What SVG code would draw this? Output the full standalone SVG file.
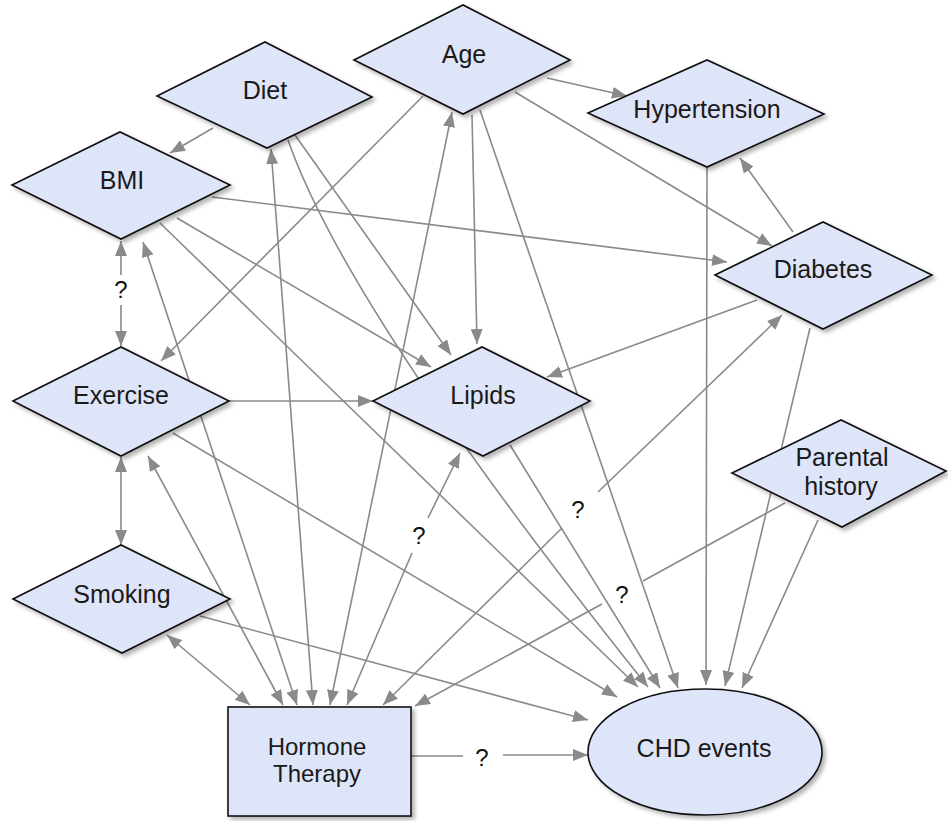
<svg xmlns="http://www.w3.org/2000/svg" width="948" height="821" viewBox="0 0 948 821">
<style>
.n{fill:#dfe5f8;stroke:#111;stroke-width:1.6;filter:url(#sh)}
.t{font-family:"Liberation Sans",Arial,sans-serif;font-size:25px;fill:#1a1a1a;text-anchor:middle}
.q{font-family:"Liberation Sans",Arial,sans-serif;font-size:24px;fill:#111;text-anchor:middle}
.e{stroke:#8a8a8a;stroke-width:1.6;fill:none}
.a{marker-end:url(#ah)}
.b{marker-start:url(#ah);marker-end:url(#ah)}
</style>
<defs>
<marker id="ah" markerUnits="userSpaceOnUse" markerWidth="16" markerHeight="12" refX="15" refY="6" orient="auto-start-reverse">
<path d="M0,0 L15,6 L0,12 z" fill="#8a8a8a"/>
</marker>
<filter id="sh" x="-10%" y="-10%" width="125%" height="130%">
<feDropShadow dx="3" dy="3" stdDeviation="2" flood-color="#000" flood-opacity="0.3"/>
</filter>
</defs>
<rect width="948" height="821" fill="#fff"/>

<g id="connectors">
<line class="e a" x1="547" y1="78" x2="627" y2="96"/>
<line class="e a" x1="515" y1="92" x2="772" y2="246"/>
<line class="e a" x1="472" y1="115" x2="477" y2="344"/>
<line class="e a" x1="480" y1="110" x2="678" y2="688"/>
<line class="e a" x1="423" y1="96" x2="161" y2="361"/>
<line class="e b" x1="452" y1="112" x2="330" y2="705"/>
<line class="e a" x1="213" y1="128" x2="170" y2="153"/>
<line class="e b" x1="271" y1="149" x2="313" y2="705"/>
<line class="e a" x1="295" y1="135" x2="451" y2="355"/>
<path class="e a" d="M288,140 Q348,312 648,687"/>
<line class="e a" x1="212" y1="197" x2="727" y2="262"/>
<line class="e a" x1="177" y1="218" x2="431" y2="367"/>
<line class="e a" x1="160" y1="223" x2="638" y2="687"/>
<line class="e a" x1="121" y1="275" x2="121" y2="241"/>
<line class="e a" x1="121" y1="305" x2="121" y2="346"/>
<line class="e b" x1="143" y1="242" x2="297" y2="705"/>
<line class="e a" x1="229" y1="401" x2="373" y2="401"/>
<line class="e a" x1="173" y1="433" x2="617" y2="697"/>
<line class="e b" x1="148" y1="456" x2="283" y2="705"/>
<line class="e b" x1="121" y1="457" x2="121" y2="545"/>
<line class="e b" x1="167" y1="635" x2="250" y2="705"/>
<line class="e a" x1="200" y1="616" x2="588" y2="720"/>
<line class="e a" x1="428" y1="518" x2="460" y2="453"/>
<line class="e a" x1="412" y1="553" x2="347" y2="705"/>
<line class="e a" x1="510" y1="445" x2="660" y2="688"/>
<line class="e a" x1="793" y1="232" x2="740" y2="158"/>
<line class="e a" x1="757" y1="300" x2="547" y2="377"/>
<line class="e a" x1="598" y1="492" x2="782" y2="315"/>
<line class="e a" x1="562" y1="528" x2="383" y2="705"/>
<line class="e a" x1="810" y1="328" x2="725" y2="686"/>
<line class="e a" x1="707" y1="167" x2="706" y2="685"/>
<line class="e a" x1="818" y1="520" x2="742" y2="688"/>
<line class="e" x1="785" y1="503" x2="643" y2="581"/>
<line class="e a" x1="602" y1="604" x2="415" y2="706"/>
<line class="e" x1="411" y1="756" x2="463" y2="756"/>
<line class="e a" x1="503" y1="755" x2="588" y2="755"/>
<text class="q" x="121" y="298">?</text>
<text class="q" x="419" y="544">?</text>
<text class="q" x="578" y="518">?</text>
<text class="q" x="622" y="603">?</text>
<text class="q" x="482" y="766">?</text>
</g>

<g id="age"><polygon class="n" points="354,60 463,5 570,60 463,114"/><text class="t" x="464" y="63">Age</text></g>
<g id="diet"><polygon class="n" points="157,96 265,42 372,97 267,148"/><text class="t" x="265" y="99">Diet</text></g>
<g id="bmi"><polygon class="n" points="12,185 120,132 230,185 121,239"/><text class="t" x="122" y="189">BMI</text></g>
<g id="hypertension"><polygon class="n" points="588,113 707,60 824,114 707,167"/><text class="t" x="707" y="118">Hypertension</text></g>
<g id="diabetes"><polygon class="n" points="715,275 823,222 932,275 823,329"/><text class="t" x="823" y="278">Diabetes</text></g>
<g id="exercise"><polygon class="n" points="13,401 121,347 229,401 121,456"/><text class="t" x="121" y="404">Exercise</text></g>
<g id="lipids"><polygon class="n" points="373,401 482,347 590,401 483,456"/><text class="t" x="483" y="404">Lipids</text></g>
<g id="parental"><polygon class="n" points="732,473 841,420 946,471 842,527"/><text class="t" x="842" y="466">Parental</text><text class="t" x="841" y="495">history</text></g>
<g id="smoking"><polygon class="n" points="13,599 121,545 230,599 122,653"/><text class="t" x="122" y="603">Smoking</text></g>
<g id="hormone"><rect class="n" x="228" y="707" width="183" height="109"/><text class="t" x="317" y="755" style="font-size:24px">Hormone</text><text class="t" x="317" y="782" style="font-size:24px">Therapy</text></g>
<g id="chd"><ellipse class="n" cx="705" cy="752" rx="117" ry="63"/><text class="t" x="704" y="757">CHD events</text></g>
</svg>
